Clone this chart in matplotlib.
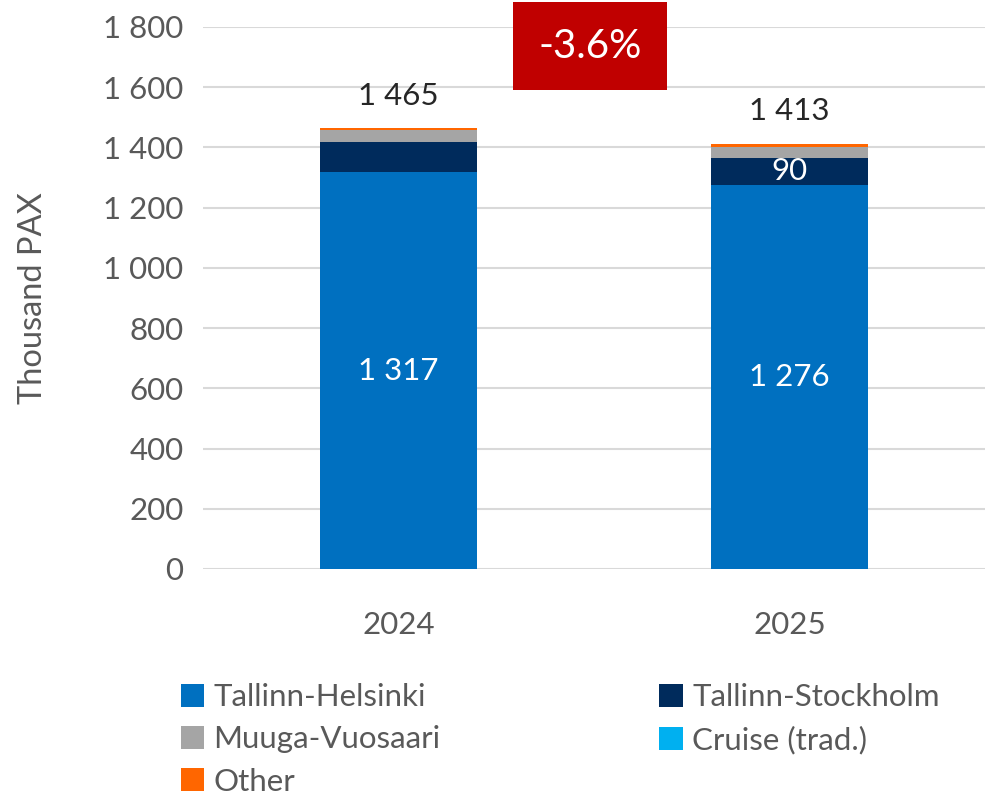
import matplotlib
matplotlib.use("AGG")
import matplotlib.pyplot as plt
import numpy as np
from matplotlib.ticker import FuncFormatter
from matplotlib.patches import Patch

plt.rcParams['font.family'] = ['Lato', 'DejaVu Sans']

years = ['2024', '2025']
series = ['Tallinn-Helsinki', 'Tallinn-Stockholm', 'Muuga-Vuosaari', 'Cruise (trad.)', 'Other']
tallinn_helsinki = [1317, 1276]
tallinn_stockholm = [100, 90]
muuga_vuosaari = [40, 37]
cruise = [0, 0]
other = [8, 10]
totals = [1465, 1413]
change_label = '-3.6%'

colors = ['#0070c0', '#002b5c', '#a5a5a5', '#00b0f0', '#ff6600']
text_col = '#595959'
fs = 22.5

fig = plt.figure(figsize=(9.9, 7.94), dpi=100)
ax = fig.add_axes([0.205, 0.2834, 0.79, 0.6826])

x = np.arange(len(years))
width = 0.40
bottom = np.zeros(len(years))
for vals, col in zip([tallinn_helsinki, tallinn_stockholm, muuga_vuosaari, cruise, other], colors):
    ax.bar(x, vals, width, bottom=bottom, color=col, zorder=3)
    bottom += np.array(vals)

# labels
for i in range(len(years)):
    ax.text(x[i], tallinn_helsinki[i] / 2, '{:,}'.format(tallinn_helsinki[i]).replace(',', ' '),
            ha='center', va='center', color='white', fontsize=fs, zorder=4)
    ax.text(x[i], totals[i] + 60, '{:,}'.format(totals[i]).replace(',', ' '),
            ha='center', va='bottom', color='#262626', fontsize=fs, zorder=4)
# stockholm label only for 2025
ax.text(x[1], tallinn_helsinki[1] + tallinn_stockholm[1] / 2, str(tallinn_stockholm[1]),
        ha='center', va='center', color='white', fontsize=fs, zorder=4)

ax.set_xlim(-0.5, 1.5)
ax.set_ylim(0, 1800)
ax.set_yticks(np.arange(0, 1801, 200))
ax.yaxis.set_major_formatter(FuncFormatter(lambda v, p: '{:,}'.format(int(v)).replace(',', ' ')))
ax.set_xticks(x)
ax.set_xticklabels(years)
ax.grid(axis='y', color='#d9d9d9', linewidth=1.5, zorder=0)
for s in ax.spines.values():
    s.set_visible(False)
ax.tick_params(length=0, labelsize=fs, labelcolor=text_col)
ax.tick_params(axis='x', pad=30)
ax.tick_params(axis='y', pad=14)
ax.set_ylabel('Thousand PAX', fontsize=fs + 1, color=text_col, labelpad=40)

# change box
fig.text(590 / 990, 1 - 46 / 794, change_label, ha='center', va='center', color='white', fontsize=29,
         bbox=dict(boxstyle='square,pad=0.63', facecolor='#c00000', edgecolor='none'))

# legend filled row by row like the original
order = [0, 2, 4, 1, 3]
handles = [Patch(facecolor=colors[k]) for k in order]
labels = [series[k] for k in order]
fig.legend(handles, labels, loc='upper left', bbox_to_anchor=(0.17, 0.155), ncol=2,
           frameon=False, fontsize=fs, labelcolor=text_col, handlelength=0.75, handleheight=0.75,
           handletextpad=0.3, columnspacing=7.0, labelspacing=0.45, borderaxespad=0)

fig.savefig('out.png', dpi=100)
